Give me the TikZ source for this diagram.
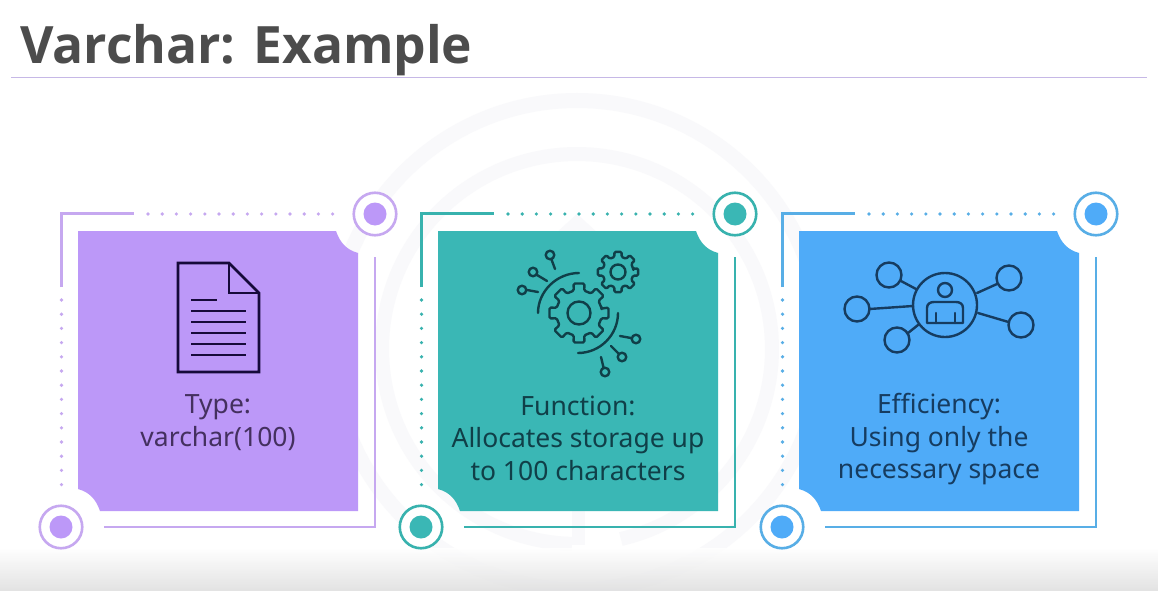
\documentclass[tikz,border=0pt]{standalone}
\usepackage{fontspec}
\setmainfont{Noto Sans}
\newfontfamily\titlefont{Open Sans}
\definecolor{pfill}{HTML}{BC98F8}
\definecolor{pline}{HTML}{C6A8F0}
\definecolor{pink}{HTML}{160A3A}
\definecolor{ptext}{HTML}{44305F}
\definecolor{tfill}{HTML}{3AB7B5}
\definecolor{tline}{HTML}{38B2AE}
\definecolor{tink}{HTML}{103F48}
\definecolor{bfill}{HTML}{4FABF8}
\definecolor{bline}{HTML}{58AEE6}
\definecolor{bink}{HTML}{163C60}
\definecolor{ghost}{HTML}{F9F9FB}
\definecolor{rulec}{HTML}{C6B8E6}
\tikzset{
  cardtext/.style={font=\fontsize{26.5}{32.5}\selectfont, align=center, anchor=center},
  frameline/.style={line width=2.6pt},
  iconline/.style={line width=2.4pt, line cap=round, line join=round},
}
% one card: #1 x offset, #2 fill, #3 line
\newcommand{\cardframe}[4]{%
  \begin{scope}[xshift=#1]
    \fill[#2] (78,231) -- (336,231) .. controls (340,243) and (347,250) .. (358,253)
      -- (358,511) -- (100,511) .. controls (96,499) and (89,492) .. (78,489) -- cycle;
    \draw[#3, frameline] (61.5,287) |- (134,213.5);
    \draw[#3, frameline] (375,257) |- (104,527);
    \foreach \k in {0,...,13} {
      \fill[#3] ({148+14.2*\k},214) circle (1.8);
      \fill[#3] (61.5,{300+14.2*\k}) circle (1.8);
    }
    \node[circle, draw=#3, line width=2.6pt, fill=white, minimum size=42.5pt, inner sep=0pt] (#4a) at (375,214) {};
    \fill[#2] (#4a.center) circle (11.5);
    \node[circle, draw=#3, line width=2.6pt, fill=white, minimum size=42.5pt, inner sep=0pt] (#4b) at (61,527) {};
    \fill[#2] (#4b.center) circle (11.5);
  \end{scope}}
\newcommand{\gearat}[5]{% x y rOuter rRoot colour
  \begin{scope}[shift={(#1,#2)}]
    \draw[#5, iconline, rounded corners=1.4pt]
      (-11:#4) \foreach \a in {0,45,...,315} {
        -- ({\a-10.5}:#3) -- ({\a+10.5}:#3) -- ({\a+13}:#4) -- ({\a+32}:#4)
      } -- cycle;
  \end{scope}}
\begin{document}
\begin{tikzpicture}[x=1pt,y=-1pt]
  \useasboundingbox (0,0) rectangle (1158,591);
  \fill[white] (0,0) rectangle (1158,591);
  % ghost rings and arrow
  \draw[ghost, line width=15pt] (577,345) circle (244.5);
  \draw[ghost, line width=14pt] plot[domain=77:-268.5, samples=160] ({577+195*cos(\x)},{349+195*sin(\x)});
  \fill[ghost] (572,500) rectangle (585,545);
  \draw[ghost, line width=12pt, line join=miter] (552,245) -- (577,222) -- (602,245);
  \shade[top color=white, bottom color=black!13, opacity=0.85] (0,548) rectangle (1158,591);
  % title
  \node[font=\titlefont\fontsize{51.5}{60}\selectfont\bfseries, text=black!70, anchor=base west, inner sep=0pt] (title) at (20,64) {Varchar: Example};
  \coordinate (ruleL) at (11,77.5);
  \coordinate (ruleR) at (1147,77.5);
  \draw[rulec, line width=1.2pt] (ruleL) -- (ruleR);
  % cards
  \cardframe{0pt}{pfill}{pline}{p}
  \cardframe{360pt}{tfill}{tline}{t}
  \cardframe{721pt}{bfill}{bline}{b}
  % doc icon
  \draw[pink, line width=2.8pt, line join=miter] (178,263) -- (229,263) -- (259,293) -- (259,372) -- (178,372) -- cycle;
  \draw[pink, line width=2.8pt] (229,263) -- (229,293) -- (259,293);
  \draw[pink, line width=2.4pt] (191,300) -- (217,300);
  \foreach \y in {311,322,333,344,355} \draw[pink, line width=2.4pt] (191,\y) -- (246,\y);
  % gears icon
  \gearat{579}{313}{30}{23}{tink}
  \draw[tink, iconline] (579,313) circle (11.5);
  \gearat{618}{272}{20.5}{15.5}{tink}
  \draw[tink, iconline] (618,272) circle (7.5);
  \draw[tink, iconline] (538,313) .. controls (538,291) and (557,273) .. (579,273);
  \draw[tink, iconline] (618,313) .. controls (618,335) and (600,353) .. (578,353);
  \draw[tink, iconline] (550,255) circle (4.3) (551.5,259.5) -- (555,269);
  \draw[tink, iconline] (533,272) circle (4.3) (537,275) -- (547,281);
  \draw[tink, iconline] (522,290) circle (4.3) (527,290) -- (538,292);
  \draw[tink, iconline] (636,339) circle (4.3) (631,338) -- (620,336);
  \draw[tink, iconline] (622,357) circle (4.3) (618.5,353.5) -- (611,346);
  \draw[tink, iconline] (605,372) circle (4.3) (603.5,367.5) -- (601,357);
  % network icon
  \draw[bink, iconline] (945,305) circle (32);
  \draw[bink, iconline] (889,275) circle (12.5) (901,281) -- (916,289);
  \draw[bink, iconline] (857,309) circle (12.5) (869.5,309) -- (913,306);
  \draw[bink, iconline] (897,340) circle (12.5) (908,333) -- (918,325);
  \draw[bink, iconline] (1009,278) circle (12.5) (997,284) -- (977,293);
  \draw[bink, iconline] (1021,325) circle (12.5) (1008.5,322) -- (978,313);
  \draw[bink, iconline] (945,290) circle (7);
  \draw[bink, iconline] (927,323) -- (927,308) .. controls (927,304) and (930,302) .. (934,302) -- (956,302) .. controls (960,302) and (963,304) .. (963,308) -- (963,323) -- cycle;
  \draw[bink, iconline] (936,313) -- (936,323) (955,313) -- (955,323);
  % labels
  \node[cardtext, text=ptext] (ltype) at (218,422.5) {Type:\\varchar(100)};
  \node[cardtext, text=tink] (lfunc) at (578,438) {Function:\\Allocates storage up\\to 100 characters};
  \node[cardtext, text=bink] (leff) at (939,439.5) {Efficiency:\\Using only the\\necessary space};
\end{tikzpicture}
\end{document}
